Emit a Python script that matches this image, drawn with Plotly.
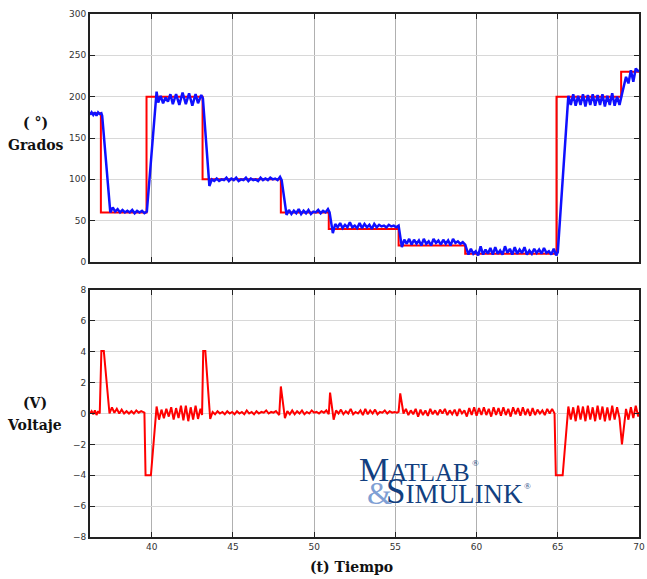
import plotly.graph_objects as go

# Reference (set-point) step signal, degrees
ref_t = [36.2, 36.87, 39.68, 43.13, 47.95, 50.9, 55.2, 59.3, 64.92, 68.9, 70.0]
ref_v = [180, 60, 200, 100, 60, 40, 20, 10, 200, 230, 230]

# Measured position, degrees
pos_t = [36.2, 36.3, 36.4, 36.5, 36.6, 36.7, 36.8, 36.9, 36.95, 37.45, 37.6, 37.75, 37.9, 38.05, 38.2, 38.35,
         38.5, 38.65, 38.8, 38.95, 39.1, 39.25, 39.4, 39.55, 39.7, 40.3, 40.4, 40.55, 40.7, 40.85, 41.0, 41.15,
         41.3, 41.5, 41.7, 41.9, 42.1, 42.3, 42.5, 42.7, 42.85, 43.05, 43.15, 43.55, 43.7, 43.85, 44.0, 44.15,
         44.3, 44.45, 44.6, 44.75, 44.9, 45.05, 45.2, 45.35, 45.5, 45.65, 45.8, 45.95, 46.1, 46.25, 46.4, 46.55,
         46.7, 46.85, 47.0, 47.15, 47.3, 47.45, 47.6, 47.75, 47.9, 48.0, 48.3, 48.45, 48.6, 48.75, 48.9, 49.05,
         49.2, 49.35, 49.5, 49.65, 49.8, 49.95, 50.1, 50.25, 50.4, 50.55, 50.7, 50.85, 50.95, 51.15, 51.3, 51.45,
         51.6, 51.75, 51.9, 52.05, 52.2, 52.35, 52.5, 52.65, 52.8, 52.95, 53.1, 53.25, 53.4, 53.55, 53.7, 53.85,
         54.0, 54.15, 54.3, 54.45, 54.6, 54.75, 54.9, 55.05, 55.2, 55.4, 55.55, 55.7, 55.85, 56.0, 56.15, 56.3,
         56.45, 56.6, 56.75, 56.9, 57.05, 57.2, 57.35, 57.5, 57.65, 57.8, 57.95, 58.1, 58.25, 58.4, 58.55, 58.7,
         58.85, 59.0, 59.15, 59.3, 59.5, 59.65, 59.8, 59.95, 60.1, 60.25, 60.4, 60.55, 60.7, 60.85, 61.0, 61.15,
         61.3, 61.45, 61.6, 61.75, 61.9, 62.05, 62.2, 62.35, 62.5, 62.65, 62.8, 62.95, 63.1, 63.25, 63.4, 63.55,
         63.7, 63.85, 64.0, 64.15, 64.3, 64.45, 64.6, 64.75, 64.9, 65.0, 65.65, 65.8, 65.95, 66.1, 66.25, 66.4,
         66.55, 66.7, 66.85, 67.0, 67.15, 67.3, 67.45, 67.6, 67.75, 67.9, 68.05, 68.2, 68.35, 68.5, 68.65, 68.8,
         68.95, 69.2, 69.35, 69.5, 69.65, 69.8, 70.0]
pos_v = [178, 181, 178, 181, 177, 181, 179, 180, 177, 60, 66, 61, 64, 60, 63, 60,
         62, 60, 63, 59, 62, 60, 62, 59, 61, 206, 193, 201, 192, 199, 194, 203,
         191, 203, 190, 205, 191, 204, 189, 203, 192, 202, 198, 92, 100, 98, 101, 98,
         100, 99, 102, 98, 101, 99, 102, 98, 100, 99, 102, 98, 101, 99, 100, 98,
         102, 99, 101, 99, 102, 100, 101, 99, 103, 99, 57, 63, 58, 62, 59, 64,
         58, 62, 59, 63, 58, 61, 60, 63, 59, 62, 60, 64, 60, 35, 46, 42,
         47, 41, 45, 42, 48, 42, 44, 41, 47, 41, 46, 42, 45, 40, 46, 42,
         45, 43, 44, 42, 45, 43, 44, 42, 44, 18, 27, 22, 28, 21, 27, 22,
         26, 20, 28, 22, 25, 20, 28, 23, 26, 21, 27, 22, 26, 20, 28, 23,
         25, 22, 24, 21, 9, 16, 10, 13, 8, 19, 9, 15, 10, 17, 9, 18,
         10, 14, 9, 19, 11, 16, 9, 18, 10, 15, 11, 18, 9, 14, 10, 16,
         11, 15, 10, 17, 11, 13, 9, 16, 8, 12, 201, 190, 203, 189, 201, 190,
         203, 188, 202, 190, 203, 189, 202, 190, 203, 188, 201, 190, 204, 189, 200, 190,
         203, 224, 216, 232, 218, 234, 230]

# Control voltage, volts
volt_t = [36.2, 36.3, 36.4, 36.5, 36.6, 36.7, 36.8, 36.9, 37.05, 37.4, 37.55, 37.7, 37.85, 38.0, 38.15, 38.3,
          38.45, 38.6, 38.75, 38.9, 39.05, 39.2, 39.35, 39.55, 39.62, 39.95, 40.3, 40.45, 40.6, 40.75, 40.9, 41.05,
          41.2, 41.35, 41.5, 41.65, 41.8, 41.95, 42.1, 42.25, 42.4, 42.55, 42.7, 42.85, 43.0, 43.1, 43.17, 43.3,
          43.6, 43.75, 43.9, 44.05, 44.2, 44.35, 44.5, 44.65, 44.8, 44.95, 45.1, 45.25, 45.4, 45.55, 45.7, 45.85,
          46.0, 46.15, 46.3, 46.45, 46.6, 46.75, 46.9, 47.05, 47.2, 47.35, 47.5, 47.65, 47.85, 47.95, 48.2, 48.35,
          48.5, 48.65, 48.8, 48.95, 49.1, 49.25, 49.4, 49.55, 49.7, 49.85, 50.0, 50.15, 50.3, 50.45, 50.6, 50.75,
          50.9, 50.98, 51.2, 51.35, 51.5, 51.65, 51.8, 51.95, 52.1, 52.25, 52.4, 52.55, 52.7, 52.85, 53.0, 53.15,
          53.3, 53.45, 53.6, 53.75, 53.9, 54.05, 54.2, 54.35, 54.5, 54.65, 54.8, 54.95, 55.1, 55.2, 55.3, 55.5,
          55.65, 55.8, 55.95, 56.1, 56.25, 56.4, 56.55, 56.7, 56.85, 57.0, 57.15, 57.3, 57.45, 57.6, 57.75, 57.9,
          58.05, 58.2, 58.35, 58.5, 58.65, 58.8, 58.95, 59.1, 59.25, 59.4, 59.55, 59.7, 59.85, 60.0, 60.15, 60.3,
          60.45, 60.6, 60.75, 60.9, 61.05, 61.2, 61.35, 61.5, 61.65, 61.8, 61.95, 62.1, 62.25, 62.4, 62.55, 62.7,
          62.85, 63.0, 63.15, 63.3, 63.45, 63.6, 63.75, 63.9, 64.05, 64.2, 64.35, 64.5, 64.65, 64.8, 64.88, 65.3,
          65.65, 65.8, 65.95, 66.1, 66.25, 66.4, 66.55, 66.7, 66.85, 67.0, 67.15, 67.3, 67.45, 67.6, 67.75, 67.9,
          68.05, 68.2, 68.35, 68.5, 68.65, 68.8, 68.95, 69.2, 69.35, 69.5, 69.65, 69.8, 69.95, 70.0]
volt_v = [0, 0.15, -0.05, 0.2, -0.1, 0.15, 0, 4.05, 4.05, 0, 0.4, 0.05, 0.3, 0, 0.25, 0,
          0.15, 0, 0.15, 0, 0.2, 0.05, 0.15, 0.05, -4, -4, 0.45, -0.4, 0.25, -0.3, 0.3, -0.2,
          0.4, -0.4, 0.35, -0.3, 0.5, -0.45, 0.5, -0.5, 0.4, -0.4, 0.5, -0.35, 0.3, -0.1, 4.05, 4.05,
          -0.35, 0.1, -0.05, 0.15, 0, 0.1, -0.05, 0.15, 0, 0.1, -0.05, 0.15, 0, 0.1, -0.05, 0.2,
          0, 0.1, -0.05, 0.15, 0, 0.1, 0.05, 0.2, 0, 0.1, 0.05, 0.15, -0.1, 1.75, -0.3, 0.15,
          -0.05, 0.2, -0.05, 0.15, 0, 0.2, -0.05, 0.1, 0, 0.2, 0.05, 0.1, 0, 0.15, 0.05, 0.2,
          -0.05, 1.35, -0.4, 0.2, 0, 0.25, -0.05, 0.15, 0, 0.3, -0.05, 0.1, 0, 0.2, -0.1, 0.3,
          -0.05, 0.2, 0, 0.25, -0.05, 0.1, 0.05, 0.2, 0, 0.15, 0.05, 0.1, 0.05, 0.1, 1.3, 0,
          0.3, -0.1, 0.2, -0.05, 0.3, -0.2, 0.25, -0.1, 0.2, -0.15, 0.3, -0.05, 0.2, -0.1, 0.25, 0,
          0.3, -0.1, 0.2, -0.05, 0.25, -0.15, 0.3, 0, 0.2, -0.2, 0.35, -0.1, 0.4, -0.15, 0.35, -0.1,
          0.4, -0.1, 0.3, -0.2, 0.4, -0.1, 0.35, -0.15, 0.4, -0.1, 0.3, -0.2, 0.4, -0.05, 0.35, -0.15,
          0.4, -0.1, 0.3, -0.15, 0.35, -0.1, 0.25, 0, 0.2, -0.1, 0.3, 0, 0.3, 0, -4, -4,
          0.45, -0.4, 0.4, -0.5, 0.5, -0.4, 0.45, -0.5, 0.5, -0.4, 0.4, -0.5, 0.5, -0.4, 0.45, -0.5,
          0.4, -0.45, 0.5, -0.4, 0.4, -0.3, -2, 0.3, -0.4, 0.4, -0.3, 0.5, -0.2, 0.1]

x_ticks = [40, 45, 50, 55, 60, 65, 70]
top_ticks = [0, 50, 100, 150, 200, 250, 300]
bot_ticks = [-8, -6, -4, -2, 0, 2, 4, 6, 8]

fig = go.Figure()
fig.add_trace(go.Scatter(x=ref_t, y=ref_v, mode="lines", line=dict(color="#ff0000", width=2, shape="hv"),
                         xaxis="x", yaxis="y", showlegend=False))
fig.add_trace(go.Scatter(x=pos_t, y=pos_v, mode="lines", line=dict(color="#1010ff", width=2.5),
                         xaxis="x", yaxis="y", showlegend=False))
fig.add_trace(go.Scatter(x=volt_t, y=volt_v, mode="lines", line=dict(color="#ff0000", width=2),
                         xaxis="x2", yaxis="y2", showlegend=False))

tickfont = dict(family="DejaVu Sans", size=9, color="#333333")
common_x = dict(range=[36.2, 70], tickvals=x_ticks, showgrid=True, gridcolor="#b0b0b0", gridwidth=1,
                zeroline=False, showline=True, linecolor="#222222", linewidth=2, mirror="ticks",
                ticks="inside", ticklen=5, tickcolor="#222222", tickfont=tickfont,
                ticklabeloverflow="allow")
common_y = dict(showgrid=True, gridcolor="#d8d8d8", gridwidth=1, zeroline=False, showline=True,
                linecolor="#222222", linewidth=2, mirror="ticks", ticks="inside", ticklen=5,
                tickcolor="#222222", tickfont=tickfont, automargin=False)

fig.update_layout(
    width=647, height=579,
    margin=dict(l=90, r=2, t=14, b=42),
    paper_bgcolor="white", plot_bgcolor="white",
    xaxis=dict(common_x, domain=[0, 1], anchor="y", showticklabels=False),
    yaxis=dict(common_y, domain=[0.5258, 1], anchor="x", range=[0, 300], tickvals=top_ticks),
    xaxis2=dict(common_x, domain=[0, 1], anchor="y2", showticklabels=True),
    yaxis2=dict(common_y, domain=[0, 0.4723], anchor="x2", range=[-8, 8], tickvals=bot_ticks),
)

def px_x(px):
    return (px - 90) / 555.0

def px_y(py):
    return 1 - (py - 14) / 523.0

title_font = dict(family="DejaVu Serif", size=14, color="#111111")
anns = [
    dict(text="<b>( °)</b>", x=px_x(35), y=px_y(123)),
    dict(text="<b>Grados</b>", x=px_x(35), y=px_y(145)),
    dict(text="<b>(V)</b>", x=px_x(34), y=px_y(403)),
    dict(text="<b>Voltaje</b>", x=px_x(34), y=px_y(425)),
    dict(text="<b>(t) Tiempo</b>", x=px_x(354), y=px_y(567)),
]
for a in anns:
    fig.add_annotation(xref="paper", yref="paper", showarrow=False, xanchor="center", yanchor="middle",
                       font=title_font, **a)

logo_blue = "#123f80"
fig.add_annotation(xref="paper", yref="paper", showarrow=False, xanchor="left", yanchor="middle",
                   x=px_x(360), y=px_y(469),
                   text='<span style="font-size:34px">M</span>ATLAB',
                   font=dict(family="Liberation Serif", size=25, color=logo_blue))
fig.add_annotation(xref="paper", yref="paper", showarrow=False, xanchor="left", yanchor="middle",
                   x=px_x(368), y=px_y(493),
                   text='&amp;',
                   font=dict(family="Liberation Serif", size=32, color="#7f9fd4"))
fig.add_annotation(xref="paper", yref="paper", showarrow=False, xanchor="left", yanchor="middle",
                   x=px_x(387), y=px_y(491),
                   text='<span style="font-size:35px">S</span>IMULINK',
                   font=dict(family="Liberation Serif", size=27, color=logo_blue))
for rx, ry in [(474, 463), (527, 486)]:
    fig.add_annotation(xref="paper", yref="paper", showarrow=False, xanchor="left", yanchor="middle",
                       x=px_x(rx), y=px_y(ry), text="®",
                       font=dict(family="Liberation Serif", size=9, color=logo_blue))

fig.write_html("out.html", config={"displayModeBar": False},
               post_script="document.body.style.margin='0';document.body.style.overflow='hidden';")
